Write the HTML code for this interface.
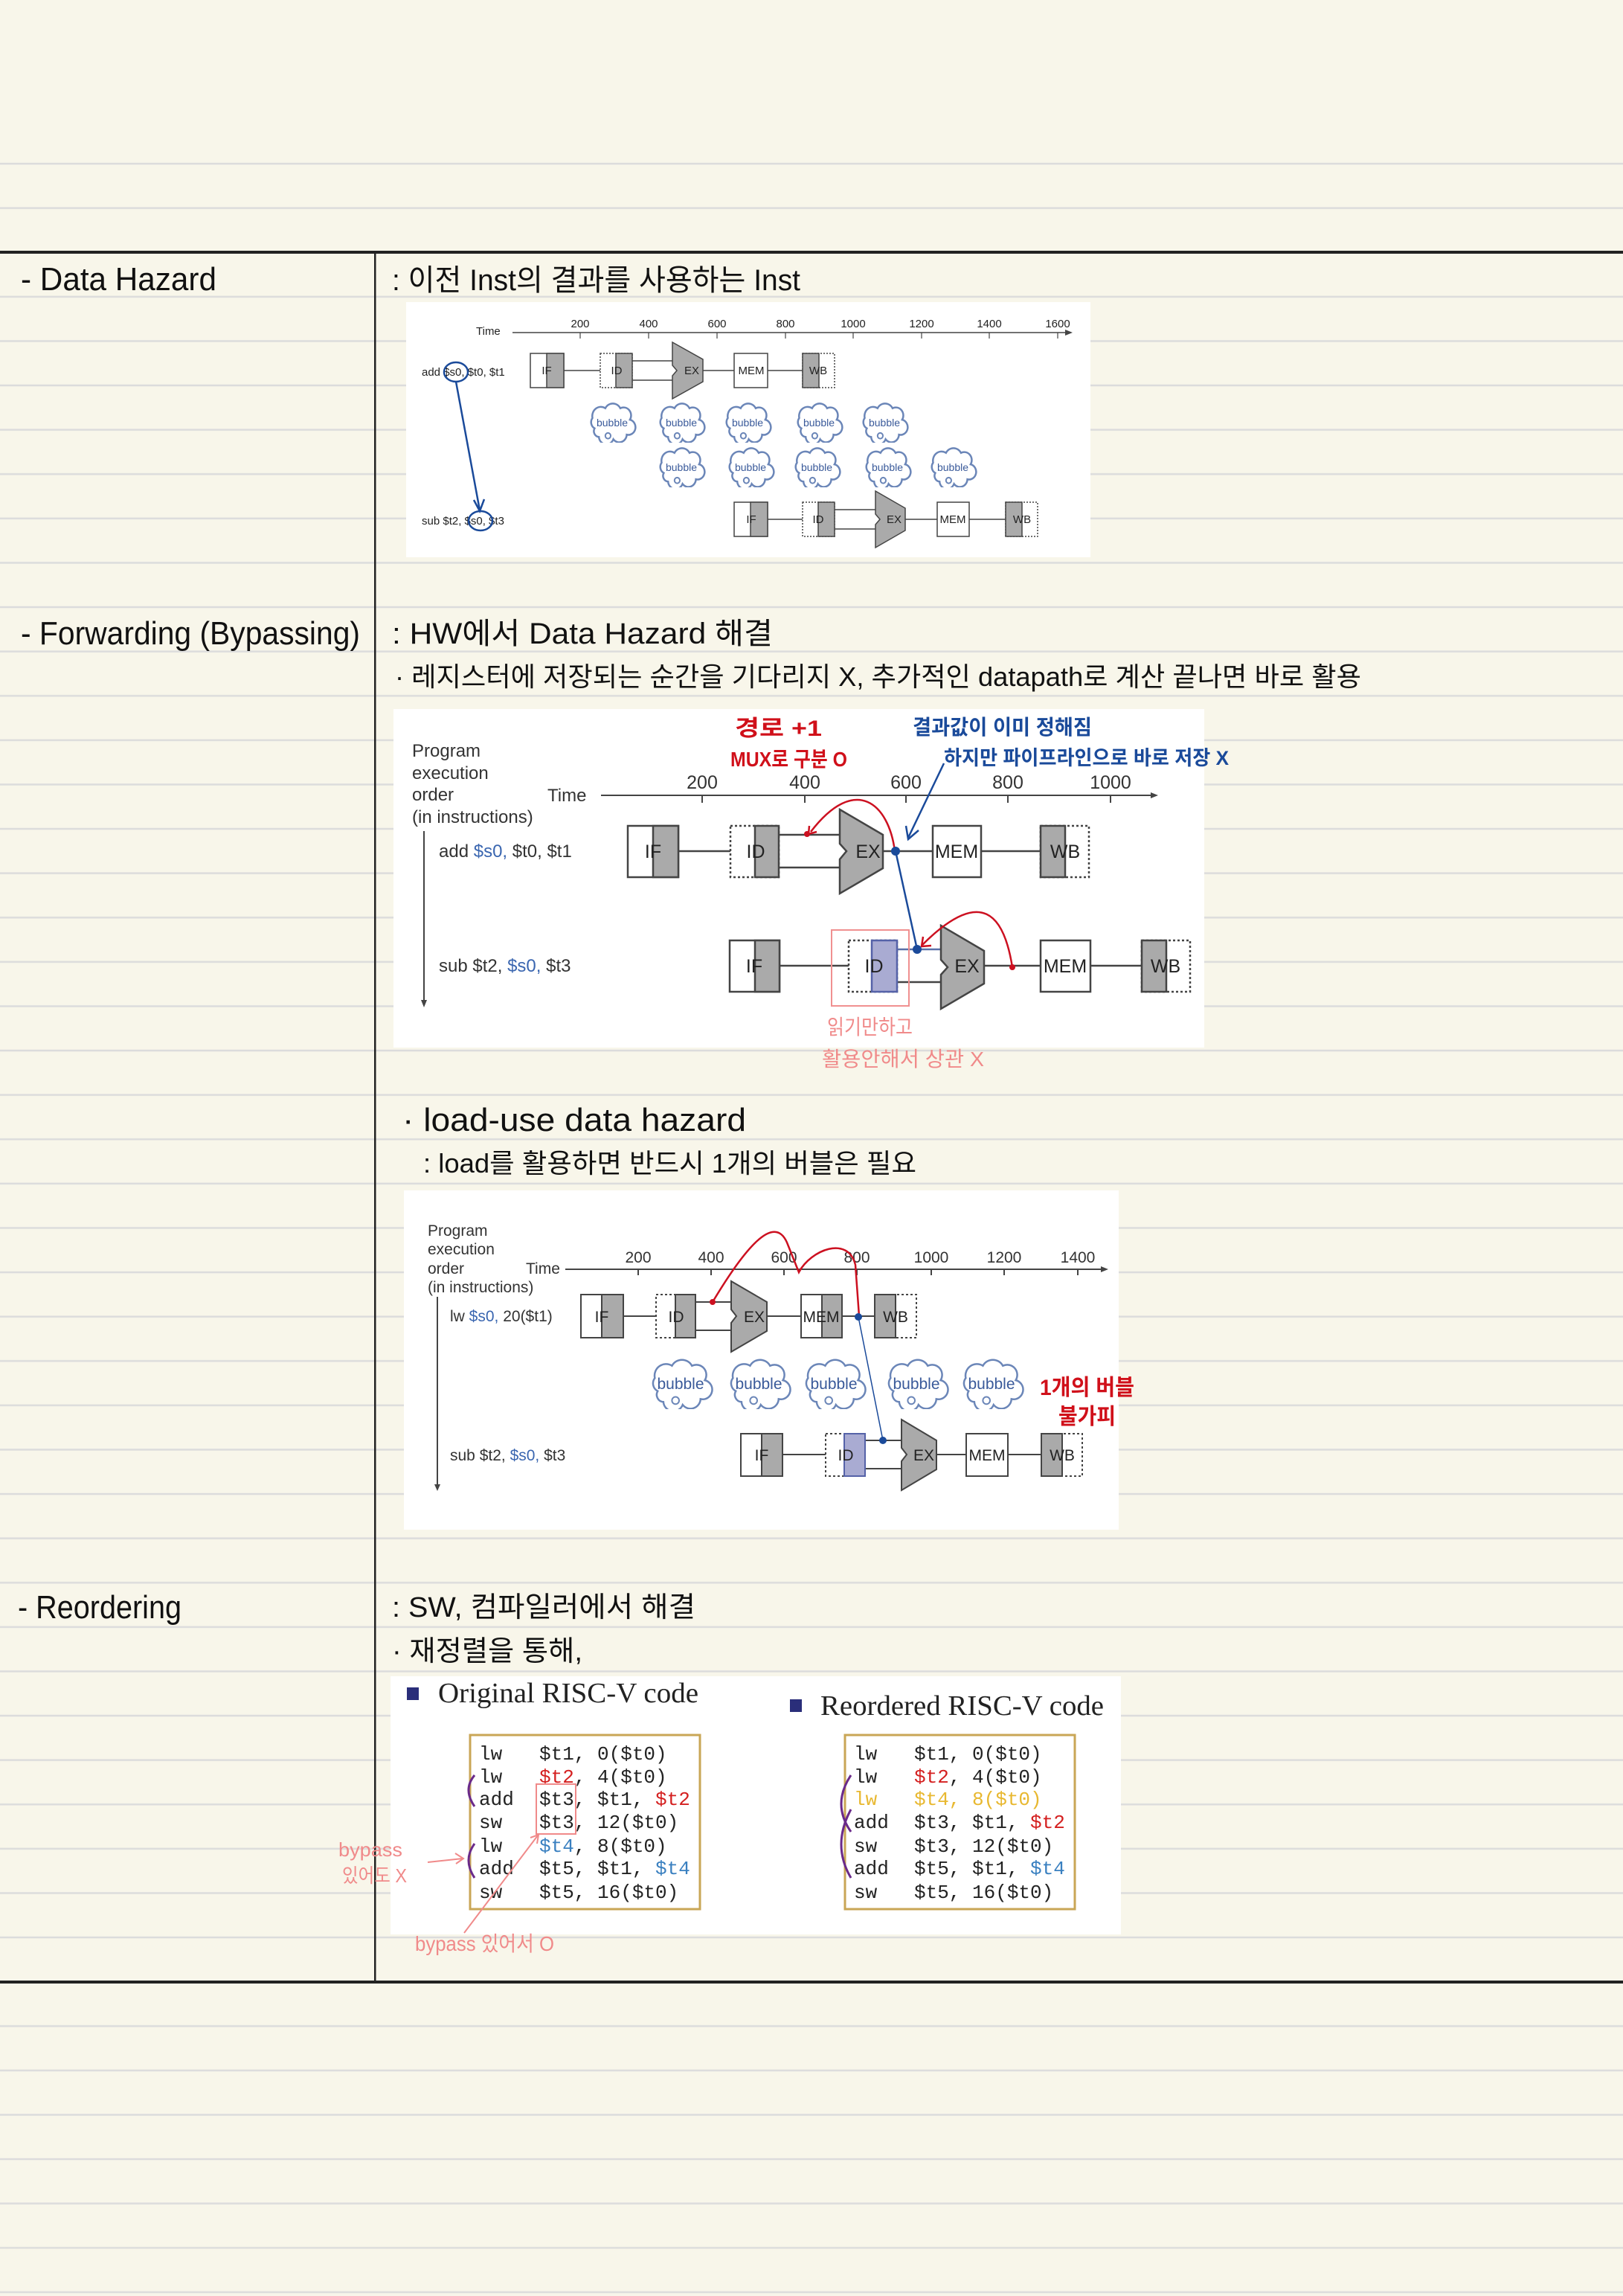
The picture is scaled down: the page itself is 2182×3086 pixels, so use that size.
<!DOCTYPE html>
<html><head><meta charset="utf-8"><style>
html,body{margin:0;padding:0;background:#f8f6ea;}
svg{display:block;}
.h{font-family:"Liberation Sans","Noto Sans CJK KR",sans-serif;fill:#111;}
.d{font-family:"Liberation Sans","Noto Sans CJK KR",sans-serif;fill:#222;}
.m{font-family:"Liberation Mono","DejaVu Sans Mono",monospace;fill:#222;font-size:26px;}
.s{font-family:"Liberation Serif",serif;fill:#222;}
</style></head><body>
<svg width="2182" height="3086" viewBox="0 0 2182 3086" xmlns="http://www.w3.org/2000/svg">
<defs>
<pattern id="rl" x="0" y="0" width="2182" height="59.6" patternUnits="userSpaceOnUse">
<rect x="0" y="40" width="2182" height="2.5" fill="#dcdcdc"/>
</pattern>
<symbol id="cloud" viewBox="0 0 100 70" preserveAspectRatio="none">
<path d="M20,45 A12,12 0 0 1 16,27 A16,16 0 0 1 40,10 A16,16 0 0 1 68,10 A14,14 0 0 1 86,30 A12,12 0 0 1 80,56 A14,14 0 0 1 55,64 A14,14 0 0 1 28,60 A10,10 0 0 1 20,45 Z" fill="#fff" stroke="#6b86b8" stroke-width="2.5" vector-effect="non-scaling-stroke"/>
<circle cx="45" cy="58" r="5" fill="none" stroke="#6b86b8" stroke-width="2" vector-effect="non-scaling-stroke"/>
</symbol>
</defs>
<rect width="2182" height="3086" fill="#f8f6ea"/>
<rect x="0" y="180" width="2182" height="2906" fill="url(#rl)"/>
<rect x="0" y="337" width="2182" height="4" fill="#222"/>
<rect x="0" y="2662" width="2182" height="4" fill="#222"/>
<rect x="503" y="339" width="2.5" height="2325" fill="#222"/>

<!-- headings -->
<text class="h" x="28" y="390" font-size="44" textLength="263" lengthAdjust="spacingAndGlyphs">- Data Hazard</text>
<text class="h" x="527" y="390" font-size="40" textLength="549" lengthAdjust="spacingAndGlyphs">: 이전 Inst의 결과를 사용하는 Inst</text>
<text class="h" x="28" y="866" font-size="44" textLength="456" lengthAdjust="spacingAndGlyphs">- Forwarding (Bypassing)</text>
<text class="h" x="527" y="865" font-size="40" textLength="512" lengthAdjust="spacingAndGlyphs">: HW에서 Data Hazard 해결</text>
<text class="h" x="531" y="922" font-size="36" textLength="1299" lengthAdjust="spacingAndGlyphs">· 레지스터에 저장되는 순간을 기다리지 X, 추가적인 datapath로 계산 끝나면 바로 활용</text>
<text class="h" x="541" y="1520" font-size="44" textLength="462" lengthAdjust="spacingAndGlyphs">· load-use data hazard</text>
<text class="h" x="569" y="1576" font-size="36" textLength="663" lengthAdjust="spacingAndGlyphs">: load를 활용하면 반드시 1개의 버블은 필요</text>
<text class="h" x="24" y="2175" font-size="44" textLength="220" lengthAdjust="spacingAndGlyphs">- Reordering</text>
<text class="h" x="527" y="2173" font-size="38" textLength="408" lengthAdjust="spacingAndGlyphs">: SW, 컴파일러에서 해결</text>
<text class="h" x="527" y="2232" font-size="38" textLength="256" lengthAdjust="spacingAndGlyphs">· 재정렬을 통해,</text>

<!-- ============ Diagram 1 ============ -->
<rect x="546" y="406" width="920" height="343" fill="#fff"/>
<g class="d" font-size="15">
<text x="640" y="450">Time</text>
<line x1="689" y1="447" x2="1435" y2="447" stroke="#444" stroke-width="1.5"/>
<path d="M1432,443 L1442,447 L1432,451 Z" fill="#444"/>
<g stroke="#444" stroke-width="1.2">
<line x1="780" y1="447" x2="780" y2="455"/><line x1="872" y1="447" x2="872" y2="455"/><line x1="964" y1="447" x2="964" y2="455"/><line x1="1056" y1="447" x2="1056" y2="455"/><line x1="1147" y1="447" x2="1147" y2="455"/><line x1="1239" y1="447" x2="1239" y2="455"/><line x1="1330" y1="447" x2="1330" y2="455"/><line x1="1422" y1="447" x2="1422" y2="455"/>
</g>
<g text-anchor="middle"><text x="780" y="440">200</text><text x="872" y="440">400</text><text x="964" y="440">600</text><text x="1056" y="440">800</text><text x="1147" y="440">1000</text><text x="1239" y="440">1200</text><text x="1330" y="440">1400</text><text x="1422" y="440">1600</text></g>
<text x="567" y="505">add $s0, $t0, $t1</text>
<text x="567" y="705">sub $t2, $s0, $t3</text>
</g>
<g stroke="#444" stroke-width="1.5" fill="none">
<line x1="758" y1="498" x2="807" y2="498"/><line x1="850" y1="485" x2="904" y2="485"/><line x1="850" y1="511" x2="904" y2="511"/><line x1="945" y1="498" x2="987" y2="498"/><line x1="1032" y1="498" x2="1079" y2="498"/>
<line x1="1032" y1="698" x2="1079" y2="698"/><line x1="1122" y1="685" x2="1177" y2="685"/><line x1="1122" y1="711" x2="1177" y2="711"/><line x1="1217" y1="698" x2="1260" y2="698"/><line x1="1303" y1="698" x2="1352" y2="698"/>
</g>
<g stroke="#444" stroke-width="1.5">
<rect x="713" y="475" width="45" height="46" fill="#fff"/><rect x="735" y="475" width="23" height="46" fill="#aaa"/>
<rect x="807" y="475" width="43" height="46" fill="#fff" stroke-dasharray="2,2"/><rect x="828" y="475" width="22" height="46" fill="#aaa"/>
<polygon points="904,460 945,483 945,513 904,536 904,505 910,498 904,491" fill="#aaa"/>
<rect x="987" y="475" width="45" height="46" fill="#fff"/>
<rect x="1079" y="475" width="43" height="46" fill="#fff" stroke-dasharray="2,2"/><rect x="1079" y="475" width="22" height="46" fill="#aaa"/>
<rect x="987" y="675" width="45" height="46" fill="#fff"/><rect x="1009" y="675" width="23" height="46" fill="#aaa"/>
<rect x="1079" y="675" width="43" height="46" fill="#fff" stroke-dasharray="2,2"/><rect x="1100" y="675" width="22" height="46" fill="#aaa"/>
<polygon points="1177,660 1217,683 1217,713 1177,736 1177,705 1183,698 1177,691" fill="#aaa"/>
<rect x="1260" y="675" width="43" height="46" fill="#fff"/>
<rect x="1352" y="675" width="43" height="46" fill="#fff" stroke-dasharray="2,2"/><rect x="1352" y="675" width="22" height="46" fill="#aaa"/>
</g>
<g class="d" font-size="15" text-anchor="middle">
<text x="735" y="503">IF</text><text x="829" y="503">ID</text><text x="930" y="503">EX</text><text x="1010" y="503">MEM</text><text x="1100" y="503">WB</text>
<text x="1010" y="703">IF</text><text x="1100" y="703">ID</text><text x="1202" y="703">EX</text><text x="1281" y="703">MEM</text><text x="1374" y="703">WB</text>
</g>
<g>
<use href="#cloud" x="785" y="541" width="72" height="54"/><use href="#cloud" x="878" y="541" width="72" height="54"/><use href="#cloud" x="967" y="541" width="72" height="54"/><use href="#cloud" x="1063" y="541" width="72" height="54"/><use href="#cloud" x="1151" y="541" width="72" height="54"/>
<use href="#cloud" x="878" y="601" width="72" height="54"/><use href="#cloud" x="971" y="601" width="72" height="54"/><use href="#cloud" x="1060" y="601" width="72" height="54"/><use href="#cloud" x="1155" y="601" width="72" height="54"/><use href="#cloud" x="1243" y="601" width="72" height="54"/>
</g>
<g class="d" font-size="14" fill="#3a5a9a" text-anchor="middle" style="fill:#3a5a9a">
<text x="823" y="573">bubble</text><text x="916" y="573">bubble</text><text x="1005" y="573">bubble</text><text x="1101" y="573">bubble</text><text x="1189" y="573">bubble</text>
<text x="916" y="633">bubble</text><text x="1009" y="633">bubble</text><text x="1098" y="633">bubble</text><text x="1193" y="633">bubble</text><text x="1281" y="633">bubble</text>
</g>
<g stroke="#1a4a9a" stroke-width="2.5" fill="none">
<ellipse cx="613" cy="500" rx="16" ry="13"/><ellipse cx="646" cy="700" rx="16" ry="13"/>
<line x1="613" y1="513" x2="645" y2="686"/><path d="M637,672 L645,687 L651,671"/>
</g>

<!-- ============ Diagram 2 ============ -->
<rect x="529" y="953" width="1090" height="455" fill="#fff"/>
<g class="d" font-size="24" style="fill:#333">
<text x="554" y="1017">Program</text><text x="554" y="1047">execution</text><text x="554" y="1076">order</text><text x="554" y="1106">(in instructions)</text>
<text x="736" y="1077">Time</text>
</g>
<line x1="808" y1="1069" x2="1550" y2="1069" stroke="#444" stroke-width="2"/><path d="M1547,1065 L1557,1069 L1547,1073 Z" fill="#444"/>
<g stroke="#444" stroke-width="2"><line x1="944" y1="1069" x2="944" y2="1079"/><line x1="1082" y1="1069" x2="1082" y2="1079"/><line x1="1218" y1="1069" x2="1218" y2="1079"/><line x1="1355" y1="1069" x2="1355" y2="1079"/><line x1="1493" y1="1069" x2="1493" y2="1079"/></g>
<g class="d" font-size="25" text-anchor="middle" style="fill:#333"><text x="944" y="1060">200</text><text x="1082" y="1060">400</text><text x="1218" y="1060">600</text><text x="1355" y="1060">800</text><text x="1493" y="1060">1000</text></g>
<line x1="570" y1="1117" x2="570" y2="1348" stroke="#444" stroke-width="2"/><path d="M566,1344 L570,1354 L574,1344Z" fill="#444"/>
<text class="d" x="590" y="1152" font-size="24" style="fill:#333">add <tspan style="fill:#3a66b0">$s0,</tspan> $t0, $t1</text>
<text class="d" x="590" y="1306" font-size="24" style="fill:#333">sub $t2, <tspan style="fill:#3a66b0">$s0,</tspan> $t3</text>
<g stroke="#444" stroke-width="2.5" fill="none">
<line x1="912" y1="1144" x2="982" y2="1144"/><line x1="1047" y1="1122" x2="1129" y2="1122"/><line x1="1047" y1="1166" x2="1129" y2="1166"/><line x1="1187" y1="1144" x2="1254" y2="1144"/><line x1="1319" y1="1144" x2="1399" y2="1144"/>
<line x1="1048" y1="1298" x2="1141" y2="1298"/><line x1="1206" y1="1276" x2="1265" y2="1276" stroke="#5a70a8"/><line x1="1206" y1="1320" x2="1265" y2="1320"/><line x1="1323" y1="1298" x2="1399" y2="1298"/><line x1="1466" y1="1298" x2="1535" y2="1298"/>
</g>
<g stroke="#444" stroke-width="2.5">
<rect x="844" y="1110" width="68" height="69" fill="#fff"/><rect x="878" y="1110" width="34" height="69" fill="#aaa"/>
<rect x="982" y="1110" width="65" height="69" fill="#fff" stroke-dasharray="3,3"/><rect x="1015" y="1110" width="32" height="69" fill="#aaa"/>
<polygon points="1129,1088 1187,1122 1187,1167 1129,1201 1129,1155 1138,1144 1129,1134" fill="#aaa"/>
<rect x="1254" y="1110" width="65" height="69" fill="#fff"/>
<rect x="1399" y="1110" width="65" height="69" fill="#fff" stroke-dasharray="3,3"/><rect x="1399" y="1110" width="33" height="69" fill="#aaa"/>
<rect x="981" y="1264" width="67" height="69" fill="#fff"/><rect x="1015" y="1264" width="33" height="69" fill="#aaa"/>
<rect x="1141" y="1264" width="65" height="69" fill="#fff" stroke-dasharray="3,3"/><rect x="1172" y="1264" width="34" height="69" fill="#a9abd2" stroke="#5562a8"/>
<polygon points="1265,1244 1323,1278 1323,1322 1265,1356 1265,1310 1274,1300 1265,1290" fill="#aaa"/>
<rect x="1399" y="1264" width="67" height="69" fill="#fff"/>
<rect x="1535" y="1264" width="65" height="69" fill="#fff" stroke-dasharray="3,3"/><rect x="1535" y="1264" width="33" height="69" fill="#aaa"/>
</g>
<g class="d" font-size="25" text-anchor="middle" style="fill:#222">
<text x="878" y="1153">IF</text><text x="1016" y="1153">ID</text><text x="1167" y="1153">EX</text><text x="1286" y="1153">MEM</text><text x="1432" y="1153">WB</text>
<text x="1014" y="1307">IF</text><text x="1175" y="1307">ID</text><text x="1300" y="1307">EX</text><text x="1432" y="1307">MEM</text><text x="1567" y="1307">WB</text>
</g>
<rect x="1118" y="1250" width="104" height="102" fill="none" stroke="#f09090" stroke-width="2"/>
<g fill="none" stroke-width="2.5">
<path d="M1203,1144 C1195,1080 1150,1040 1090,1118" stroke="#cc1020"/><path d="M1088,1110 L1087,1121 L1098,1118" stroke="#cc1020"/>
<path d="M1361,1300 C1350,1230 1320,1190 1240,1270" stroke="#cc1020"/><path d="M1241,1259 L1239,1272 L1252,1271" stroke="#cc1020"/>
<line x1="1204" y1="1144" x2="1233" y2="1276" stroke="#1a4a9a"/>
<path d="M1269,1026 L1221,1126" stroke="#1a4a9a"/><path d="M1218,1110 L1221,1128 L1235,1116" stroke="#1a4a9a"/>
</g>
<circle cx="1085" cy="1121" r="4" fill="#cc1020"/><circle cx="1361" cy="1300" r="4" fill="#cc1020"/>
<circle cx="1204" cy="1144" r="6" fill="#1a4a9a"/><circle cx="1233" cy="1276" r="6" fill="#1a4a9a"/>
<g class="h" font-weight="bold">
<text x="988" y="989" font-size="30" style="fill:#d0101a" textLength="117" lengthAdjust="spacingAndGlyphs">경로 +1</text>
<text x="982" y="1030" font-size="28" style="fill:#d0101a" textLength="157" lengthAdjust="spacingAndGlyphs">MUX로 구분 O</text>
<text x="1227" y="987" font-size="28" style="fill:#1a4a9a" textLength="241" lengthAdjust="spacingAndGlyphs">결과값이 이미 정해짐</text>
<text x="1269" y="1028" font-size="27" style="fill:#1a4a9a" textLength="383" lengthAdjust="spacingAndGlyphs">하지만 파이프라인으로 바로 저장 X</text>
</g>
<g class="h">
<text x="1112" y="1390" font-size="28" style="fill:#f08a8a" textLength="115" lengthAdjust="spacingAndGlyphs">읽기만하고</text>
<text x="1105" y="1433" font-size="28" style="fill:#f08a8a" textLength="218" lengthAdjust="spacingAndGlyphs">활용안해서 상관 X</text>
</g>

<!-- ============ Diagram 3 ============ -->
<rect x="543" y="1600" width="961" height="456" fill="#fff"/>
<g class="d" font-size="21" style="fill:#333">
<text x="575" y="1661">Program</text><text x="575" y="1686">execution</text><text x="575" y="1712">order</text><text x="575" y="1737">(in instructions)</text>
<text x="707" y="1712">Time</text>
</g>
<line x1="760" y1="1706" x2="1483" y2="1706" stroke="#444" stroke-width="2"/><path d="M1480,1702 L1490,1706 L1480,1710Z" fill="#444"/>
<g stroke="#444" stroke-width="2"><line x1="858" y1="1706" x2="858" y2="1714"/><line x1="956" y1="1706" x2="956" y2="1714"/><line x1="1054" y1="1706" x2="1054" y2="1714"/><line x1="1152" y1="1706" x2="1152" y2="1714"/><line x1="1252" y1="1706" x2="1252" y2="1714"/><line x1="1350" y1="1706" x2="1350" y2="1714"/><line x1="1449" y1="1706" x2="1449" y2="1714"/></g>
<g class="d" font-size="21" text-anchor="middle" style="fill:#333"><text x="858" y="1697">200</text><text x="956" y="1697">400</text><text x="1054" y="1697">600</text><text x="1152" y="1697">800</text><text x="1252" y="1697">1000</text><text x="1350" y="1697">1200</text><text x="1449" y="1697">1400</text></g>
<line x1="588" y1="1743" x2="588" y2="1998" stroke="#444" stroke-width="2"/><path d="M584,1995 L588,2004 L592,1995Z" fill="#444"/>
<text class="d" x="605" y="1776" font-size="21" style="fill:#333">lw <tspan style="fill:#3a66b0">$s0,</tspan> 20($t1)</text>
<text class="d" x="605" y="1963" font-size="21" style="fill:#333">sub $t2, <tspan style="fill:#3a66b0">$s0,</tspan> $t3</text>
<g stroke="#444" stroke-width="2" fill="none">
<line x1="838" y1="1769" x2="882" y2="1769"/><line x1="935" y1="1750" x2="983" y2="1750"/><line x1="935" y1="1788" x2="983" y2="1788"/><line x1="1031" y1="1769" x2="1077" y2="1769"/><line x1="1132" y1="1769" x2="1176" y2="1769"/>
<line x1="1052" y1="1955" x2="1110" y2="1955"/><line x1="1163" y1="1936" x2="1212" y2="1936"/><line x1="1163" y1="1974" x2="1212" y2="1974"/><line x1="1259" y1="1955" x2="1299" y2="1955"/><line x1="1355" y1="1955" x2="1400" y2="1955"/>
</g>
<g stroke="#444" stroke-width="2">
<rect x="781" y="1740" width="57" height="58" fill="#fff"/><rect x="809" y="1740" width="29" height="58" fill="#aaa"/>
<rect x="882" y="1740" width="53" height="58" fill="#fff" stroke-dasharray="3,3"/><rect x="908" y="1740" width="27" height="58" fill="#aaa"/>
<polygon points="983,1722 1031,1750 1031,1789 983,1817 983,1778 990,1769 983,1760" fill="#aaa"/>
<rect x="1077" y="1740" width="55" height="58" fill="#fff"/><rect x="1105" y="1740" width="27" height="58" fill="#aaa"/>
<rect x="1176" y="1740" width="56" height="58" fill="#fff" stroke-dasharray="3,3"/><rect x="1176" y="1740" width="28" height="58" fill="#aaa"/>
<rect x="996" y="1927" width="56" height="57" fill="#fff"/><rect x="1024" y="1927" width="28" height="57" fill="#aaa"/>
<rect x="1110" y="1927" width="53" height="57" fill="#fff" stroke-dasharray="3,3"/><rect x="1135" y="1927" width="28" height="57" fill="#a9abd2" stroke="#5562a8"/>
<polygon points="1212,1908 1259,1936 1259,1975 1212,2003 1212,1964 1219,1955 1212,1946" fill="#aaa"/>
<rect x="1299" y="1927" width="56" height="57" fill="#fff"/>
<rect x="1400" y="1927" width="55" height="57" fill="#fff" stroke-dasharray="3,3"/><rect x="1400" y="1927" width="28" height="57" fill="#aaa"/>
</g>
<g class="d" font-size="21" text-anchor="middle" style="fill:#222">
<text x="809" y="1777">IF</text><text x="909" y="1777">ID</text><text x="1014" y="1777">EX</text><text x="1104" y="1777">MEM</text><text x="1204" y="1777">WB</text>
<text x="1024" y="1963">IF</text><text x="1137" y="1963">ID</text><text x="1242" y="1963">EX</text><text x="1327" y="1963">MEM</text><text x="1428" y="1963">WB</text>
</g>
<g>
<use href="#cloud" x="865" y="1826" width="96" height="68"/><use href="#cloud" x="970" y="1826" width="96" height="68"/><use href="#cloud" x="1071" y="1826" width="96" height="68"/><use href="#cloud" x="1182" y="1826" width="96" height="68"/><use href="#cloud" x="1283" y="1826" width="96" height="68"/>
</g>
<g class="d" font-size="21" text-anchor="middle" style="fill:#3a5a9a">
<text x="915" y="1867">bubble</text><text x="1020" y="1867">bubble</text><text x="1121" y="1867">bubble</text><text x="1232" y="1867">bubble</text><text x="1333" y="1867">bubble</text>
</g>
<g fill="none" stroke-width="2.5">
<path d="M958,1750 C1000,1680 1040,1630 1058,1670 L1074,1710 C1090,1680 1140,1660 1150,1700 L1155,1769" stroke="#cc1020"/>
<line x1="1154" y1="1770" x2="1187" y2="1936" stroke="#1a4a9a" stroke-width="1.5"/>
</g>
<circle cx="958" cy="1750" r="4" fill="#cc1020"/><circle cx="1154" cy="1770" r="5" fill="#1a4a9a"/><circle cx="1187" cy="1936" r="5" fill="#1a4a9a"/>
<g class="h" font-weight="bold" style="fill:#d0101a">
<text x="1398" y="1875" font-size="30" textLength="127" lengthAdjust="spacingAndGlyphs">1개의 버블</text>
<text x="1423" y="1914" font-size="30" textLength="77" lengthAdjust="spacingAndGlyphs">불가피</text>
</g>

<!-- ============ Diagram 4 ============ -->
<rect x="525" y="2253" width="982" height="347" fill="#fff"/>
<rect x="547" y="2268" width="16" height="17" fill="#2a2e7a"/>
<text class="s" x="589" y="2288" font-size="38" textLength="350" lengthAdjust="spacingAndGlyphs">Original RISC-V code</text>
<rect x="1062" y="2284" width="16" height="17" fill="#2a2e7a"/>
<text class="s" x="1103" y="2305" font-size="38" textLength="381" lengthAdjust="spacingAndGlyphs">Reordered RISC-V code</text>
<rect x="632" y="2332" width="309" height="234" fill="none" stroke="#c9a656" stroke-width="3"/>
<rect x="1136" y="2332" width="309" height="234" fill="none" stroke="#c9a656" stroke-width="3"/>
<g class="m">
<text x="644" y="2365">lw</text><text x="725" y="2365">$t1, 0($t0)</text>
<text x="644" y="2396">lw</text><text x="725" y="2396"><tspan style="fill:#d42020">$t2</tspan>, 4($t0)</text>
<text x="644" y="2426">add</text><text x="725" y="2426">$t3, $t1, <tspan style="fill:#d42020">$t2</tspan></text>
<text x="644" y="2457">sw</text><text x="725" y="2457">$t3, 12($t0)</text>
<text x="644" y="2489">lw</text><text x="725" y="2489"><tspan style="fill:#3a80c0">$t4</tspan>, 8($t0)</text>
<text x="644" y="2519">add</text><text x="725" y="2519">$t5, $t1, <tspan style="fill:#3a80c0">$t4</tspan></text>
<text x="644" y="2551">sw</text><text x="725" y="2551">$t5, 16($t0)</text>

<text x="1148" y="2365">lw</text><text x="1229" y="2365">$t1, 0($t0)</text>
<text x="1148" y="2396">lw</text><text x="1229" y="2396"><tspan style="fill:#d42020">$t2</tspan>, 4($t0)</text>
<text x="1148" y="2426" style="fill:#e8b830">lw</text><text x="1229" y="2426" style="fill:#e8b830">$t4, 8($t0)</text>
<text x="1148" y="2457">add</text><text x="1229" y="2457">$t3, $t1, <tspan style="fill:#d42020">$t2</tspan></text>
<text x="1148" y="2489">sw</text><text x="1229" y="2489">$t3, 12($t0)</text>
<text x="1148" y="2519">add</text><text x="1229" y="2519">$t5, $t1, <tspan style="fill:#3a80c0">$t4</tspan></text>
<text x="1148" y="2551">sw</text><text x="1229" y="2551">$t5, 16($t0)</text>
</g>
<rect x="721" y="2398" width="53" height="67" fill="none" stroke="#f08a8a" stroke-width="2"/>
<g fill="none" stroke="#6a2a8a" stroke-width="3">
<path d="M638,2386 Q622,2405 638,2428"/>
<path d="M638,2478 Q622,2500 638,2524"/>
<path d="M1144,2386 Q1118,2425 1144,2462"/>
<path d="M1144,2432 Q1118,2480 1144,2524"/>
</g>
<g fill="none" stroke="#f08a8a" stroke-width="2">
<line x1="575" y1="2503" x2="622" y2="2498"/><path d="M612,2491 L623,2498 L613,2505"/>
<line x1="624" y1="2598" x2="723" y2="2467"/><path d="M713,2470 L724,2466 L722,2478"/>
</g>
<g class="h" style="fill:#f08a8a">
<text x="455" y="2495" font-size="26" textLength="86" lengthAdjust="spacingAndGlyphs">bypass</text>
<text x="460" y="2530" font-size="26" textLength="87" lengthAdjust="spacingAndGlyphs">있어도 X</text>
<text x="558" y="2622" font-size="28" textLength="187" lengthAdjust="spacingAndGlyphs">bypass 있어서 O</text>
</g>
</svg>
</body></html>
